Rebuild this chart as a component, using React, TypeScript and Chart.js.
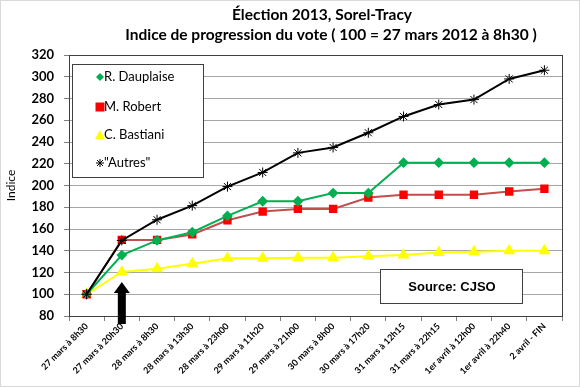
import React, { useEffect, useRef } from "react";
import { Chart, registerables } from "chart.js";

Chart.register(...registerables);

const categories = [
  "27 mars à 8h30",
  "27 mars à 20h30",
  "28 mars à 8h30",
  "28 mars à 13h30",
  "28 mars à 23h00",
  "29 mars à 11h20",
  "29 mars à 21h00",
  "30 mars à 8h00",
  "30 mars à 17h20",
  "31 mars à 12h15",
  "31 mars à 22h15",
  "1er avril à 12h00",
  "1er avril à 22h40",
  "2 avril - FIN",
];

const dauplaise = [100, 136, 149.5, 157, 172, 185.5, 185.5, 193, 193, 221, 221, 221, 221, 221];
const robert = [100, 150, 150, 155, 168, 176, 178.5, 178.5, 189, 191.5, 191.5, 191.5, 194.5, 197];
const bastiani = [100, 120.5, 123.5, 128, 133, 133, 133.5, 133.5, 135, 136, 138.5, 139, 140, 140];
const autres = [100, 149.5, 168.5, 181.5, 199, 212, 230, 235, 248.5, 263.5, 274.5, 279, 298, 306];

const seriesNames = ["R. Dauplaise", "M. Robert", "C. Bastiani", "\"Autres\""];
const titleLines = ["Élection 2013, Sorel-Tracy", "Indice de progression du vote ( 100 = 27 mars 2012 à 8h30 )"];
const sourceText = "Source: CJSO";
const yTitle = "Indice";
const arrowCategoryIndex = 1;

const FONT = "Lato, 'Liberation Sans', sans-serif";

function drawMarker(ctx: CanvasRenderingContext2D, kind: number, x: number, y: number) {
  ctx.save();
  if (kind === 0) {
    ctx.fillStyle = "#00B050";
    ctx.beginPath();
    ctx.moveTo(x, y - 4);
    ctx.lineTo(x + 4, y);
    ctx.lineTo(x, y + 4);
    ctx.lineTo(x - 4, y);
    ctx.closePath();
    ctx.fill();
  } else if (kind === 1) {
    ctx.fillStyle = "#FF0000";
    ctx.fillRect(x - 4.5, y - 4.5, 9, 9);
  } else if (kind === 2) {
    ctx.fillStyle = "#FFFF00";
    ctx.beginPath();
    ctx.moveTo(x, y - 5);
    ctx.lineTo(x + 5, y + 4);
    ctx.lineTo(x - 5, y + 4);
    ctx.closePath();
    ctx.fill();
  } else {
    ctx.strokeStyle = "#000";
    ctx.lineWidth = 1;
    ctx.beginPath();
    ctx.moveTo(x - 4, y);
    ctx.lineTo(x + 4, y);
    ctx.moveTo(x, y - 4);
    ctx.lineTo(x, y + 4);
    ctx.moveTo(x - 3, y - 3);
    ctx.lineTo(x + 3, y + 3);
    ctx.moveTo(x - 3, y + 3);
    ctx.lineTo(x + 3, y - 3);
    ctx.stroke();
  }
  ctx.restore();
}

const decorPlugin = {
  id: "decor",
  beforeDraw(chart: any) {
    const ctx = chart.ctx as CanvasRenderingContext2D;
    ctx.save();
    ctx.fillStyle = "#fff";
    ctx.fillRect(0, 0, chart.width, chart.height);
    ctx.restore();
  },
  afterDatasetsDraw(chart: any) {
    const ctx = chart.ctx as CanvasRenderingContext2D;
    const ca = chart.chartArea;
    const xs = chart.scales.x;
    ctx.save();
    // plot border
    ctx.strokeStyle = "#404040";
    ctx.lineWidth = 1;
    ctx.strokeRect(Math.round(ca.left) + 0.5, Math.round(ca.top) + 0.5, Math.round(ca.right - ca.left), Math.round(ca.bottom - ca.top));

    // arrow
    const ax = xs.getPixelForValue(arrowCategoryIndex);
    const tipY = ca.bottom - 34;
    ctx.fillStyle = "#000";
    ctx.beginPath();
    ctx.moveTo(ax, tipY);
    ctx.lineTo(ax + 8, tipY + 11);
    ctx.lineTo(ax + 4, tipY + 11);
    ctx.lineTo(ax + 4, ca.bottom + 8);
    ctx.lineTo(ax - 4, ca.bottom + 8);
    ctx.lineTo(ax - 4, tipY + 11);
    ctx.lineTo(ax - 8, tipY + 11);
    ctx.closePath();
    ctx.fill();

    // legend box
    const lx = ca.left + 3, ly = ca.top + 9, lw = 131, lh = 113;
    ctx.fillStyle = "#fff";
    ctx.fillRect(lx, ly, lw, lh);
    ctx.strokeStyle = "#404040";
    ctx.strokeRect(Math.round(lx) + 0.5, Math.round(ly) + 0.5, lw, lh);
    ctx.font = `13px ${FONT}`;
    ctx.textBaseline = "middle";
    ctx.textAlign = "left";
    const rows = [ly + 13, ly + 43, ly + 71, ly + 99];
    seriesNames.forEach((name, i) => {
      drawMarker(ctx, i, lx + 28, rows[i]);
      ctx.fillStyle = "#000";
      ctx.fillText(name, lx + 32, rows[i]);
    });

    // source box
    const sx = 380, sy = 269, sw = 142, sh = 34;
    ctx.fillStyle = "#fff";
    ctx.fillRect(sx, sy, sw, sh);
    ctx.strokeStyle = "#404040";
    ctx.strokeRect(sx + 0.5, sy + 0.5, sw, sh);
    ctx.fillStyle = "#000";
    ctx.font = `bold 13px 'Liberation Sans', Arial, sans-serif`;
    ctx.textAlign = "center";
    ctx.fillText(sourceText, sx + sw / 2 + 1, sy + sh / 2 + 1);
    ctx.restore();
  },
  afterDraw(chart: any) {
    const ctx = chart.ctx as CanvasRenderingContext2D;
    ctx.save();
    ctx.fillStyle = "#000";
    ctx.font = `bold 15.5px ${FONT}`;
    ctx.textAlign = "center";
    ctx.textBaseline = "middle";
    ctx.fillText(titleLines[0], 322, 15);
    ctx.fillText(titleLines[1], 331, 35);
    ctx.strokeStyle = "#d9d9d9";
    ctx.lineWidth = 1;
    ctx.strokeRect(0.5, 0.5, chart.width - 1, chart.height - 1);
    ctx.restore();
  },
};

export default function App() {
  const ref = useRef<HTMLCanvasElement | null>(null);
  useEffect(() => {
    if (!ref.current) return;
    const common = { borderWidth: 2, pointRadius: 4, pointHoverRadius: 4, tension: 0 };
    const chart = new Chart(ref.current, {
      type: "line",
      data: {
        labels: categories,
        datasets: [
          {
            label: seriesNames[3],
            data: autres,
            borderColor: "#000000",
            backgroundColor: "#000000",
            pointStyle: "star",
            pointBorderColor: "#000",
            pointBorderWidth: 1,
            ...common,
            pointRadius: 5,
          },
          {
            label: seriesNames[0],
            data: dauplaise,
            borderColor: "#00B050",
            backgroundColor: "#00B050",
            pointBackgroundColor: "#00B050",
            pointBorderColor: "#00B050",
            pointStyle: "rectRot",
            ...common,
            pointRadius: 4,
          },
          {
            label: seriesNames[1],
            data: robert,
            borderColor: "#C0504D",
            backgroundColor: "#FF0000",
            pointBackgroundColor: "#FF0000",
            pointBorderColor: "#FF0000",
            pointStyle: "rect",
            ...common,
            pointRadius: 4.5,
          },
          {
            label: seriesNames[2],
            data: bastiani,
            borderColor: "#FFFF00",
            backgroundColor: "#FFFF00",
            pointBackgroundColor: "#FFFF00",
            pointBorderColor: "#FFFF00",
            pointStyle: "triangle",
            ...common,
            pointRadius: 5,
          },
        ],
      },
      plugins: [decorPlugin],
      options: {
        animation: false,
        responsive: false,
        events: [],
        layout: { padding: { top: 55, right: 18, left: 0, bottom: 0 } },
        plugins: {
          legend: { display: false },
          title: { display: false },
          tooltip: { enabled: false },
        },
        scales: {
          x: {
            type: "category",
            offset: true,
            grid: {
              offset: true,
              drawOnChartArea: false,
              drawTicks: true,
              tickLength: 5,
              color: "#808080",
            },
            border: { color: "#404040" },
            ticks: {
              autoSkip: false,
              maxRotation: 45,
              minRotation: 45,
              color: "#000",
              font: { family: FONT, size: 9, weight: "bold" },
              padding: 0,
            },
            afterFit: (scale: any) => {
              scale.height = 71;
            },
          },
          y: {
            min: 80,
            max: 320,
            ticks: {
              stepSize: 20,
              color: "#000",
              font: { family: FONT, size: 13, weight: "bold" },
              padding: 10,
            },
            grid: {
              color: "#A6A6A6",
              lineWidth: 1,
              drawTicks: true,
              tickLength: 5,
              tickColor: "#808080",
            },
            border: { color: "#404040" },
            title: {
              display: true,
              text: yTitle,
              color: "#000",
              font: { family: FONT, size: 12 },
            },
            afterFit: (scale: any) => {
              scale.width = 69;
            },
          },
        },
      },
    });
    return () => chart.destroy();
  }, []);
  return (
    <div style={{ position: "fixed", left: 0, top: 0, width: 580, height: 387, background: "#fff" }}>
      <canvas ref={ref} width={580} height={387} style={{ display: "block", width: 580, height: 387 }} />
    </div>
  );
}
